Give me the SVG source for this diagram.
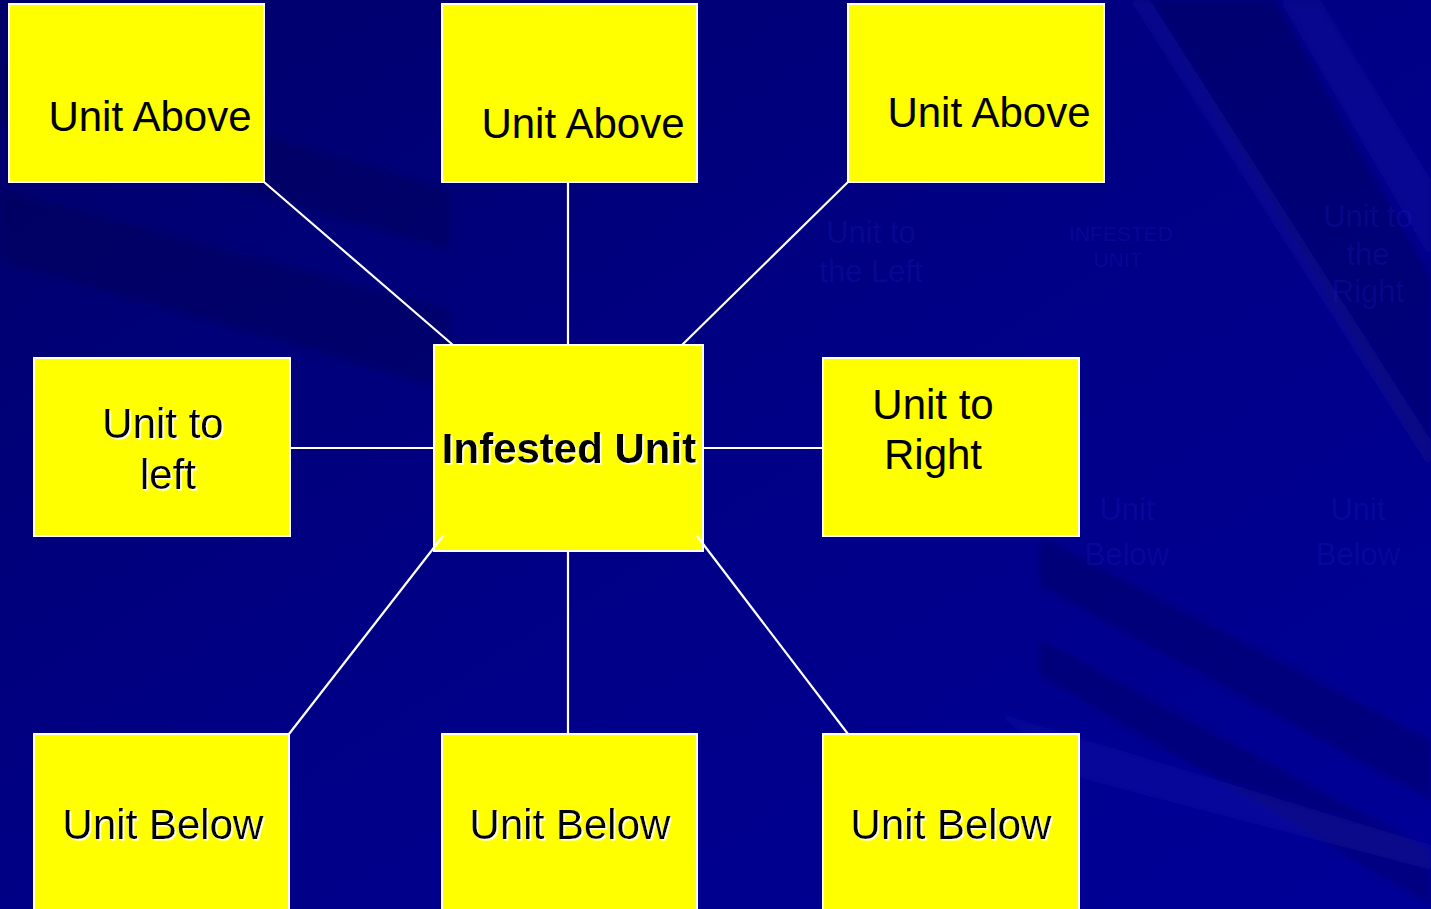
<svg xmlns="http://www.w3.org/2000/svg" width="1431" height="909" viewBox="0 0 1431 909">
<defs>
<linearGradient id="bg" x1="0" y1="0" x2="1" y2="1">
<stop offset="0" stop-color="#00006a"/>
<stop offset="0.5" stop-color="#000086"/>
<stop offset="1" stop-color="#000098"/>
</linearGradient>
<filter id="shadow" x="-5%" y="-20%" width="110%" height="140%">
<feDropShadow dx="1.6" dy="1.6" stdDeviation="0.3" flood-color="#ffffff" flood-opacity="0.95"/>
</filter>
<filter id="soft" x="-10%" y="-10%" width="120%" height="120%">
<feGaussianBlur stdDeviation="3"/>
</filter>
<style>
.box{fill:#ffff00;stroke:#ffffff;stroke-width:2}
.lbl{font-family:"Liberation Sans",Arial,sans-serif;font-size:42px;fill:#000000;text-anchor:middle}
.bold{font-weight:bold}
.sh{filter:url(#shadow)}
.conn line{stroke:#ffffff;stroke-width:2.2}
.ghost{font-family:"Liberation Sans",Arial,sans-serif;fill:#3030e0;fill-opacity:0.16;text-anchor:middle}
.dk{fill:#000040;fill-opacity:0.25}
.lt{fill:#3030c8;fill-opacity:0.16}
</style>
</defs>
<g id="background">
<rect x="0" y="0" width="1431" height="909" fill="url(#bg)"/>
<g filter="url(#soft)">
<polygon class="dk" points="1150,0 1275,0 1431,280 1431,470"/>
<polygon class="lt" points="1130,0 1150,0 1431,440 1431,470"/>
<polygon class="lt" points="1280,0 1320,0 1431,180 1431,260"/>
<polygon class="dk" points="0,190 0,260 450,390 450,310"/>
<polygon class="dk" points="0,60 0,120 450,250 450,190"/>
<polygon class="dk" points="1040,537 1431,740 1431,800 1040,585"/>
<polygon class="dk" points="1040,640 1431,850 1431,905 1040,675"/>
<polygon class="lt" points="995,712 1431,845 1431,870 1080,778"/>
</g>
</g>
<g id="ghost-text">
<text class="ghost" font-size="31" x="871" y="243">Unit to</text>
<text class="ghost" font-size="31" x="871" y="282">the Left</text>
<text class="ghost" font-size="21" x="1121" y="241">INFESTED</text>
<text class="ghost" font-size="21" x="1118" y="267">UNIT</text>
<text class="ghost" font-size="31" x="1368" y="227">Unit to</text>
<text class="ghost" font-size="31" x="1368" y="265">the</text>
<text class="ghost" font-size="31" x="1368" y="302">Right</text>
<text class="ghost" font-size="31" x="1127" y="520">Unit</text>
<text class="ghost" font-size="31" x="1127" y="565">Below</text>
<text class="ghost" font-size="31" x="1358" y="520">Unit</text>
<text class="ghost" font-size="31" x="1358" y="565">Below</text>
</g>
<g id="node-above-left">
<rect class="box" x="9" y="4" width="255" height="178"/>
<text class="lbl" x="150" y="131">Unit Above</text>
</g>
<g id="node-above-center">
<rect class="box" x="442" y="4" width="255" height="178"/>
<text class="lbl" x="583" y="138">Unit Above</text>
</g>
<g id="node-above-right">
<rect class="box" x="848" y="4" width="256" height="178"/>
<text class="lbl" x="989" y="127">Unit Above</text>
</g>
<g id="node-left">
<rect class="box" x="34" y="358" width="256" height="178"/>
<text class="lbl sh" x="163" y="438">Unit to</text>
<text class="lbl sh" x="168" y="489">left</text>
</g>
<g id="node-infested">
<rect class="box" x="434" y="345" width="269" height="206"/>
<text class="lbl bold sh" x="569" y="463">Infested Unit</text>
</g>
<g id="node-right">
<rect class="box" x="823" y="358" width="256" height="178"/>
<text class="lbl" x="933" y="419">Unit to</text>
<text class="lbl" x="933" y="469">Right</text>
</g>
<g id="node-below-left">
<rect class="box" x="34" y="734" width="255" height="190"/>
<text class="lbl sh" x="163" y="839">Unit Below</text>
</g>
<g id="node-below-center">
<rect class="box" x="442" y="734" width="255" height="190"/>
<text class="lbl sh" x="570" y="839">Unit Below</text>
</g>
<g id="node-below-right">
<rect class="box" x="823" y="734" width="256" height="190"/>
<text class="lbl sh" x="951" y="839">Unit Below</text>
</g>
<g id="connectors" class="conn">
<line x1="264" y1="182" x2="453" y2="345"/>
<line x1="568" y1="182" x2="568" y2="345"/>
<line x1="848" y1="182" x2="682" y2="345"/>
<line x1="290" y1="448" x2="434" y2="448"/>
<line x1="703" y1="448" x2="823" y2="448"/>
<line x1="289" y1="734" x2="443" y2="536"/>
<line x1="568" y1="551" x2="568" y2="734"/>
<line x1="697" y1="536" x2="848" y2="734"/>
</g>
</svg>
